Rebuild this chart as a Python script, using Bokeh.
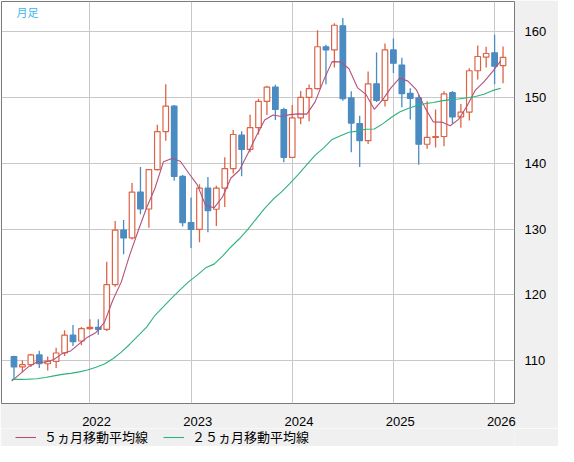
from bokeh.plotting import figure
from bokeh.layouts import column
from bokeh.models import ColumnDataSource, FixedTicker, Legend, LegendItem, Label
from bokeh.embed import file_html
from bokeh.resources import INLINE

# Monthly candles, Apr 2021 .. Feb 2026
months = ["2021-04", "2021-05", "2021-06", "2021-07", "2021-08", "2021-09", "2021-10", "2021-11", "2021-12",
          "2022-01", "2022-02", "2022-03", "2022-04", "2022-05", "2022-06", "2022-07", "2022-08", "2022-09",
          "2022-10", "2022-11", "2022-12", "2023-01", "2023-02", "2023-03", "2023-04", "2023-05", "2023-06",
          "2023-07", "2023-08", "2023-09", "2023-10", "2023-11", "2023-12", "2024-01", "2024-02", "2024-03",
          "2024-04", "2024-05", "2024-06", "2024-07", "2024-08", "2024-09", "2024-10", "2024-11", "2024-12",
          "2025-01", "2025-02", "2025-03", "2025-04", "2025-05", "2025-06", "2025-07", "2025-08", "2025-09",
          "2025-10", "2025-11", "2025-12", "2026-01", "2026-02"]

opens = [110.62, 109.06, 109.39, 110.87, 109.54, 109.89, 111.17, 113.88, 112.99,
         114.87, 115.07, 114.77, 121.54, 129.83, 128.65, 135.61, 133.04, 139.02,
         144.80, 148.65, 137.98, 130.97, 129.93, 136.20, 133.00, 136.20, 139.17,
         144.25, 142.08, 145.39, 149.39, 151.56, 148.15, 140.89, 146.87, 149.98,
         151.31, 157.68, 157.19, 160.85, 149.90, 146.00, 143.41, 152.05, 149.54,
         157.20, 154.90, 150.60, 149.90, 142.87, 143.91, 144.05, 150.70, 147.02,
         147.76, 154.03, 156.10, 156.75, 154.82]
highs = [110.77, 110.03, 111.07, 111.51, 110.62, 111.96, 114.62, 115.41, 115.12,
         116.30, 116.30, 125.02, 131.21, 131.36, 136.99, 139.41, 139.10, 145.83,
         152.00, 148.85, 138.20, 134.77, 136.80, 137.88, 136.55, 140.89, 145.04,
         144.84, 147.36, 149.78, 151.75, 151.90, 148.40, 148.84, 150.97, 151.95,
         160.20, 158.00, 161.24, 162.03, 150.93, 147.21, 153.93, 156.80, 158.18,
         158.92, 156.00, 151.36, 150.38, 149.39, 148.15, 150.92, 150.95, 149.00,
         154.43, 157.88, 157.68, 159.51, 157.73]
lows = [107.17, 108.25, 109.04, 108.90, 108.50, 108.90, 110.72, 112.25, 112.35,
        114.70, 113.93, 114.52, 121.24, 126.18, 128.40, 132.25, 130.18, 138.90,
        143.41, 137.34, 130.37, 127.12, 128.00, 129.49, 130.47, 133.34, 138.42,
        138.03, 141.64, 144.35, 147.31, 146.57, 140.15, 140.80, 145.90, 146.38,
        151.20, 152.00, 154.52, 149.49, 141.64, 139.41, 142.92, 149.30, 148.60,
        153.68, 148.50, 146.62, 139.76, 142.18, 142.37, 142.57, 146.03, 145.39,
        146.47, 152.70, 154.52, 152.00, 152.15]
closes = [109.04, 109.39, 110.87, 109.54, 109.94, 111.17, 113.88, 112.89, 114.87,
          115.07, 114.77, 121.54, 129.83, 128.65, 135.61, 133.04, 139.02, 144.80,
          148.65, 137.98, 130.97, 129.93, 136.20, 132.80, 136.20, 139.17, 144.35,
          142.08, 145.39, 149.39, 151.56, 148.15, 140.89, 146.87, 149.98, 151.31,
          157.68, 157.19, 160.94, 149.78, 146.08, 143.41, 152.05, 149.54, 157.19,
          155.17, 150.57, 149.83, 142.87, 143.91, 144.05, 150.52, 147.02, 147.76,
          154.03, 156.20, 156.65, 154.72, 156.05]

ma5_head = [106.9, 108.0, 109.1, 109.8]
ma25_head = [107.17, 107.17, 107.2, 107.27, 107.45, 107.7, 107.92, 108.07, 108.3, 108.6,
             109.0, 109.5, 110.3, 111.3, 112.5, 113.8, 115.1, 116.9, 118.2, 119.55,
             120.8, 122.0, 123.0, 124.1]

year_ticks = [9, 21, 33, 45, 57]
year_labels = ["2022", "2023", "2024", "2025", "2026"]
price_ticks = [110, 120, 130, 140, 150, 160]
legend_labels = ["５ヵ月移動平均線", "２５ヵ月移動平均線"]

UP = "#dc6446"
DOWN = "#4a8bc2"
MA5_COL = "#b5507d"
MA25_COL = "#2db27a"
PANEL = "#f0f0f0"

n = len(closes)
idx = list(range(n))
is_up = [c >= o for o, c in zip(opens, closes)]
src = ColumnDataSource(dict(
    x=idx,
    high=highs,
    low=lows,
    top=[max(o, c) for o, c in zip(opens, closes)],
    bottom=[min(o, c) for o, c in zip(opens, closes)],
    line=[UP if u else DOWN for u in is_up],
    fill=["#ffffff" if u else DOWN for u in is_up],
))

def moving(vals, w, head):
    out = []
    for i in range(len(vals)):
        if i < w - 1:
            out.append(head[i])
        else:
            out.append(sum(vals[i - w + 1:i + 1]) / w)
    return out

ma5 = moving(closes, 5, ma5_head)
ma25 = moving(closes, 25, ma25_head)
ma_x = [i - 0.27 for i in idx]

p = figure(width=558, height=428, output_backend="svg", toolbar_location=None,
           x_range=(-1.48, 59.36), y_range=(103.5, 164.55), y_axis_location="right",
           min_border_left=1, min_border_top=1, min_border_right=44, min_border_bottom=24)

p.background_fill_color = "#ffffff"
p.border_fill_color = PANEL
p.outline_line_color = "#7a7a7a"
p.outline_line_width = 1

p.xgrid.ticker = FixedTicker(ticks=year_ticks)
p.ygrid.ticker = FixedTicker(ticks=price_ticks)
p.grid.grid_line_color = "#c8c8c8"
p.grid.grid_line_width = 1

p.yaxis.ticker = FixedTicker(ticks=price_ticks)
p.xaxis.ticker = FixedTicker(ticks=[t + 0.8 for t in year_ticks])
p.xaxis.major_label_overrides = {t + 0.8: lab for t, lab in zip(year_ticks, year_labels)}
for ax in (p.xaxis, p.yaxis):
    ax.axis_line_color = None
    ax.major_tick_line_color = None
    ax.minor_tick_line_color = None
    ax.major_label_text_font = "Liberation Sans"
    ax.major_label_text_font_size = "13px"
    ax.major_label_text_color = "#000000"
p.yaxis.major_label_standoff = 4
p.xaxis.major_label_standoff = 7

p.segment(x0="x", y0="low", x1="x", y1="high", line_color="line", line_width=1.3, source=src)
p.vbar(x="x", width=0.66, top="top", bottom="bottom", fill_color="fill",
       line_color="line", line_width=1.2, source=src)

p.line(ma_x, ma5, line_color=MA5_COL, line_width=1.1)
p.line(ma_x, ma25, line_color=MA25_COL, line_width=1.1)

p.add_layout(Label(x=0.3, y=163.0, text="月足", text_color="#3ab8ee",
                   text_font="Noto Sans CJK JP", text_font_size="11px",
                   text_baseline="middle"))

# legend strip under the chart (dummy renderers only carry the legend styling)
nan = float("nan")
lg = figure(width=558, height=18, output_backend="svg", toolbar_location=None,
            x_range=(0, 1), y_range=(0, 1), min_border=0)
lg.axis.visible = False
lg.grid.visible = False
lg.outline_line_color = None
lg.background_fill_color = PANEL
lg.border_fill_color = PANEL
k5 = lg.line([nan], [nan], line_color=MA5_COL, line_width=1.1)
k25 = lg.line([nan], [nan], line_color=MA25_COL, line_width=1.1)
legend = Legend(items=[LegendItem(label=legend_labels[0], renderers=[k5]),
                       LegendItem(label=legend_labels[1], renderers=[k25])],
                orientation="horizontal", location=(14, 0),
                label_text_font="Noto Sans CJK JP", label_text_font_size="13px",
                label_text_color="#000000", glyph_width=21, glyph_height=12,
                label_standoff=8, spacing=15, padding=1, margin=0,
                label_height=12,
                background_fill_alpha=0, border_line_color=None)
lg.add_layout(legend, "center")

page = column(p, lg, spacing=0)
open("out.html", "w").write(file_html(page, INLINE))
